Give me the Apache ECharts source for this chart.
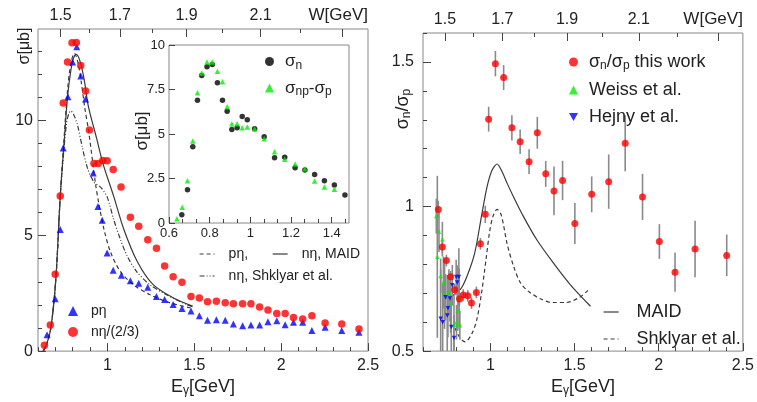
<!DOCTYPE html>
<html>
<head>
<meta charset="utf-8">
<title>eta photoproduction off the neutron</title>
<script src="https://cdn.jsdelivr.net/npm/echarts@6/dist/echarts.min.js"></script>
<style>
  html, body { margin: 0; padding: 0; background: #fff; }
  #main { width: 757px; height: 402px; }
</style>
</head>
<body>
<div id="main"></div>
<script>
const FONT = '"Liberation Sans", Arial, Helvetica, sans-serif';
const M_N = 0.938; // nucleon mass, used for the W scale on top

// ---- left panel: total cross sections [ub] vs E_gamma [GeV] ----
const pEtaE = [0.652,0.699,0.728,0.745,0.772,0.799,0.823,0.846,0.874,0.918,0.945,0.970,0.998,1.033,1.080,1.132,1.180,1.232,1.282,1.329,1.378,1.429,1.481,1.529,1.576,1.627,1.678,1.725,1.778,1.826,1.876,1.924,1.975,2.023,2.071,2.124,2.177,2.253,2.349,2.448];
const pEtaSig = [0.71,2.27,5.27,8.80,11.02,12.52,13.18,11.91,10.92,7.71,6.26,5.67,4.25,3.50,3.29,3.05,2.94,2.77,2.37,2.23,2.02,1.84,1.74,1.53,1.34,1.36,1.34,1.17,1.10,1.13,1.13,1.27,1.31,1.14,1.25,1.25,0.89,1.03,0.89,0.82];
const nEtaE = [0.637,0.671,0.699,0.728,0.745,0.770,0.796,0.821,0.846,0.874,0.896,0.922,0.947,0.973,0.998,1.033,1.078,1.132,1.180,1.232,1.282,1.329,1.378,1.429,1.481,1.529,1.576,1.627,1.678,1.725,1.778,1.826,1.876,1.924,1.975,2.023,2.071,2.124,2.177,2.253,2.349,2.448];
const nEtaSig = [0.25,1.13,3.33,6.72,10.74,12.52,13.35,13.36,12.37,11.27,9.58,8.12,8.12,8.25,8.24,7.86,7.11,5.80,5.41,4.82,4.45,3.69,3.22,2.98,2.37,2.30,2.14,2.16,2.09,2.05,2.05,2.05,1.91,1.78,1.63,1.63,1.46,1.39,1.53,1.22,1.17,0.96];

// model curves
const maidPE = [0.63,0.65,0.675,0.703,0.728,0.75,0.77,0.79,0.81,0.83,0.85,0.87,0.89,0.913,0.932,0.95,0.979,1.017,1.074,1.15,1.245,1.36,1.49];
const maidPSig = [0,0.3,1.05,3.15,6.68,9.2,11.3,12.5,12.9,12.5,11.6,10.5,9.6,8.3,7.2,6.4,5.3,4.3,3.45,2.87,2.44,2.09,1.85];
const maidNE = [0.63,0.65,0.675,0.703,0.728,0.75,0.77,0.79,0.805,0.82,0.84,0.865,0.89,0.938,0.975,1.036,1.093,1.17,1.26,1.38,1.49];
const maidNSig = [0,0.3,1.05,3.15,6.68,9.0,11.0,12.2,12.7,12.85,12.6,11.8,10.6,9.2,8.1,6.7,5.3,3.9,2.9,2.3,1.95];
const shkNE = [0.63,0.65,0.675,0.703,0.728,0.75,0.765,0.778,0.789,0.805,0.827,0.856,0.884,0.922,0.96,0.998,1.036,1.074,1.112,1.169,1.245,1.34,1.455,1.5];
const shkNSig = [0,0.3,1.05,3.15,6.68,8.8,9.9,10.3,10.4,10.25,9.8,8.8,7.95,7.32,7.1,6.68,5.69,4.85,4.14,3.43,2.87,2.44,2.02,1.9];

// ---- inset: sigma_n and sigma_np - sigma_p ----
const insetE = [0.663,0.691,0.717,0.740,0.761,0.787,0.813,0.838,0.863,0.886,0.909,0.935,0.960,0.985,1.021,1.068,1.119,1.169,1.220,1.268,1.316,1.364,1.413,1.465];
const sigN = [0.47,1.87,4.28,6.89,8.28,8.78,8.90,7.88,6.89,6.28,5.25,5.35,5.99,5.80,5.29,4.84,3.66,3.69,3.10,2.98,2.72,2.38,2.14,1.58];
const diffE = [0.639,0.665,0.691,0.717,0.740,0.761,0.787,0.813,0.838,0.863,0.886,0.909,0.935,0.960,0.985,1.021,1.068,1.119,1.169,1.220,1.268,1.316,1.364,1.413];
const sigDiff = [0.24,0.88,2.38,4.60,7.32,8.42,9.05,9.05,8.52,7.94,6.53,5.57,5.57,5.35,5.40,5.29,4.73,4.00,3.58,3.31,3.05,2.36,2.02,1.90];

// ---- right panel: ratio sigma_n / sigma_p ----
const ratioE = [0.691,0.715,0.739,0.764,0.788,0.817,0.839,0.866,0.888,0.917,0.941,0.970,0.990,1.030,1.079,1.128,1.177,1.230,1.279,1.329,1.378,1.429,1.502,1.602,1.703,1.801,1.904,2.004,2.097,2.216,2.404];
const ratioVal = [0.990,0.860,0.813,0.757,0.712,0.680,0.694,0.691,0.666,0.703,0.871,0.973,1.302,1.494,1.446,1.272,1.224,1.155,1.255,1.113,1.054,1.090,0.941,1.042,1.086,1.219,1.033,0.879,0.773,0.853,0.831];
const ratioErr = [0.03,0.02,0.02,0.02,0.02,0.02,0.02,0.02,0.02,0.02,0.02,0.03,0.043,0.044,0.043,0.044,0.042,0.043,0.055,0.045,0.084,0.068,0.071,0.062,0.094,0.097,0.08,0.06,0.068,0.098,0.072];
const weissE = [0.679,0.685,0.695,0.705,0.715,0.721,0.728,0.754,0.764,0.784,0.799,0.807,0.815,0.819];
const weissVal = [0.967,0.826,0.913,0.760,0.887,0.737,0.697,0.703,0.663,0.591,0.600,0.640,0.686,0.589];
const weissErr = [0.06,0.28,0.07,0.06,0.06,0.09,0.12,0.08,0.10,0.10,0.06,0.07,0.10,0.05];
const hejnyE = [0.705,0.717,0.734,0.744,0.748,0.760,0.768,0.774,0.784,0.797,0.803,0.813];
const hejnyVal = [0.612,0.600,0.686,0.623,0.648,0.682,0.583,0.728,0.545,0.756,0.737,0.756];
const hejnyErr = [0.17,0.13,0.08,0.14,0.10,0.08,0.10,0.07,0.08,0.06,0.06,0.10];
const maidRE = [0.72,0.774,0.823,0.862,0.907,0.947,0.98,1.01,1.04,1.07,1.10,1.138,1.197,1.276,1.374,1.473,1.595];
const maidRVal = [0.68,0.691,0.714,0.76,0.839,0.965,1.067,1.125,1.147,1.12,1.08,1.033,0.965,0.885,0.805,0.731,0.655];
const shkRE = [0.79,0.82,0.85,0.89,0.92,0.95,0.975,0.995,1.015,1.04,1.065,1.10,1.14,1.18,1.23,1.30,1.37,1.45,1.53,1.58];
const shkRVal = [0.58,0.545,0.532,0.56,0.61,0.71,0.82,0.91,0.965,0.99,0.97,0.87,0.79,0.735,0.705,0.68,0.668,0.668,0.686,0.71];

// ---- ticks ----
const eTicks = [1, 1.5, 2, 2.5];
const sigTicks = [0, 5, 10];
const ratioTicks = [0.5, 1, 1.5];
const insetETicks = [0.6, 0.8, 1, 1.2, 1.4];
const insetSigTicks = [0, 2.5, 5, 7.5, 10];
const wTicks = [1.5, 1.7, 1.9, 2.1, 2.3];
const wLabels = [1.5, 1.7, 1.9, 2.1];
const wMinor = [1.6, 1.8, 2.0, 2.2];

const zip = (xs, ys) => xs.map((x, i) => [x, ys[i]]);
const zip3 = (xs, ys, es) => xs.map((x, i) => [x, ys[i], es[i]]);
const eOfW = w => (w * w - M_N * M_N) / (2 * M_N);
function minorVals(lo, hi, step, majors) {
    const out = [];
    for (let k = Math.round(lo / step); k * step <= hi + 1e-9; k++) {
        const v = +(k * step).toFixed(4);
        if (v >= lo - 1e-9 && !majors.some(m => Math.abs(m - v) < 1e-6)) out.push(v);
    }
    return out;
}

const TICK = '#444';
const FRAME = '#888';
const CURVE = '#3a3a3a';
const GREEN = '#00ee00';
const sub = { fontSize: 12, fontFamily: FONT, padding: [8, 0, 0, 0], color: '#222' };

function majorAxis(extra) {
    return Object.assign({
        type: 'value',
        axisLine: { show: false },
        splitLine: { show: false },
        axisTick: { inside: true, length: 8, lineStyle: { color: TICK } },
        axisLabel: { color: '#222', fontSize: 16, fontFamily: FONT, margin: 6 }
    }, extra);
}
function minorAxis(extra, vals) {
    return Object.assign({
        type: 'value',
        axisLine: { show: false },
        splitLine: { show: false },
        axisLabel: { show: false },
        axisTick: { inside: true, length: 4, customValues: vals, lineStyle: { color: TICK } }
    }, extra);
}

const wFmt = v => Math.sqrt(M_N * M_N + 2 * M_N * v).toFixed(1);
const eName = '{t|E}{s|γ}{t|[GeV]}';
const eNameStyle = { rich: { t: { fontSize: 18, fontFamily: FONT, color: '#222' }, s: sub } };

const xAxes = [
    // left panel
    majorAxis({ gridIndex: 0, min: 0.6, max: 2.5, position: 'bottom',
        axisTick: { inside: true, length: 8, customValues: eTicks, lineStyle: { color: TICK } },
        axisLabel: { color: '#222', fontSize: 16, fontFamily: FONT, margin: 6, customValues: eTicks },
        name: eName, nameLocation: 'middle', nameGap: 20, nameTextStyle: eNameStyle }),
    minorAxis({ gridIndex: 0, min: 0.6, max: 2.5, position: 'bottom' }, minorVals(0.6, 2.5, 0.1, eTicks)),
    majorAxis({ gridIndex: 0, min: 0.6, max: 2.5, position: 'top',
        axisTick: { inside: true, length: 8, customValues: wTicks.map(eOfW), lineStyle: { color: TICK } },
        axisLabel: { color: '#222', fontSize: 16, fontFamily: FONT, margin: 5, customValues: wLabels.map(eOfW), formatter: wFmt },
        name: 'W[GeV]', nameLocation: 'end', nameGap: 0,
        nameTextStyle: { fontSize: 17, fontFamily: FONT, color: '#222', align: 'right', verticalAlign: 'bottom', padding: [0, 0, 5, 0] } }),
    minorAxis({ gridIndex: 0, min: 0.6, max: 2.5, position: 'top' }, wMinor.map(eOfW)),
    // inset
    majorAxis({ gridIndex: 1, min: 0.6, max: 1.485, position: 'bottom',
        axisTick: { inside: true, length: 6, customValues: insetETicks, lineStyle: { color: TICK } },
        axisLabel: { color: '#222', fontSize: 13, fontFamily: FONT, margin: 4, customValues: insetETicks } }),
    minorAxis({ gridIndex: 1, min: 0.6, max: 1.485, position: 'bottom' }, minorVals(0.6, 1.485, 0.2 / 3, insetETicks)),
    // right panel
    majorAxis({ gridIndex: 2, min: 0.6, max: 2.5, position: 'bottom',
        axisTick: { inside: true, length: 8, customValues: eTicks, lineStyle: { color: TICK } },
        axisLabel: { color: '#222', fontSize: 16, fontFamily: FONT, margin: 6, customValues: eTicks },
        name: eName, nameLocation: 'middle', nameGap: 20, nameTextStyle: eNameStyle }),
    minorAxis({ gridIndex: 2, min: 0.6, max: 2.5, position: 'bottom' }, minorVals(0.6, 2.5, 0.1, eTicks)),
    majorAxis({ gridIndex: 2, min: 0.6, max: 2.5, position: 'top',
        axisTick: { inside: true, length: 8, customValues: wTicks.map(eOfW), lineStyle: { color: TICK } },
        axisLabel: { color: '#222', fontSize: 16, fontFamily: FONT, margin: 5, customValues: wLabels.map(eOfW), formatter: wFmt },
        name: 'W[GeV]', nameLocation: 'end', nameGap: 0,
        nameTextStyle: { fontSize: 17, fontFamily: FONT, color: '#222', align: 'right', verticalAlign: 'bottom', padding: [0, 0, 5, 0] } }),
    minorAxis({ gridIndex: 2, min: 0.6, max: 2.5, position: 'top' }, wMinor.map(eOfW))
];

const yAxes = [
    majorAxis({ gridIndex: 0, min: 0, max: 13.95, position: 'left',
        axisTick: { inside: true, length: 8, customValues: sigTicks, lineStyle: { color: TICK } },
        axisLabel: { color: '#222', fontSize: 16, fontFamily: FONT, margin: 5, customValues: sigTicks } }),
    minorAxis({ gridIndex: 0, min: 0, max: 13.95, position: 'left' }, minorVals(0, 13.95, 1, sigTicks)),
    majorAxis({ gridIndex: 1, min: 0, max: 10, position: 'left',
        axisTick: { inside: true, length: 6, customValues: insetSigTicks, lineStyle: { color: TICK } },
        axisLabel: { color: '#222', fontSize: 13, fontFamily: FONT, margin: 4, customValues: insetSigTicks } }),
    majorAxis({ gridIndex: 2, min: 0.5, max: 1.6, position: 'left',
        axisTick: { inside: true, length: 8, customValues: ratioTicks, lineStyle: { color: TICK } },
        axisLabel: { color: '#222', fontSize: 16, fontFamily: FONT, margin: 9, customValues: ratioTicks } }),
    minorAxis({ gridIndex: 2, min: 0.5, max: 1.6, position: 'left' }, minorVals(0.5, 1.6, 0.1, ratioTicks))
];

function errRender(params, api) {
    const x = api.value(0), y = api.value(1), e = api.value(2);
    const hi = api.coord([x, Math.min(y + e, 1.6)]);
    const lo = api.coord([x, Math.max(y - e, 0.5)]);
    return { type: 'line', shape: { x1: hi[0], y1: hi[1], x2: lo[0], y2: lo[1] },
             style: { stroke: '#8a8a8a', lineWidth: 1.6 } };
}
function curve(name, xs, ys, type, xi, yi) {
    return { name: name, type: 'line', xAxisIndex: xi, yAxisIndex: yi, data: zip(xs, ys),
             symbol: 'none', smooth: 0.3, z: 1,
             lineStyle: { color: CURVE, width: 1.2, type: type }, itemStyle: { color: CURVE } };
}
function dots(name, xs, ys, symbol, size, color, xi, yi) {
    return { name: name, type: 'scatter', xAxisIndex: xi, yAxisIndex: yi, data: zip(xs, ys),
             symbol: symbol, symbolSize: size, itemStyle: { color: color }, z: 3 };
}
const DOWN = 'path://M0,0L10,0L5,9Z';

const series = [
    curve('pη,', maidPE, maidPSig, [4, 3], 0, 0),
    curve('nη, MAID', maidNE, maidNSig, 'solid', 0, 0),
    curve('nη, Shklyar et al.', shkNE, shkNSig, [5, 2, 1, 2, 1, 2], 0, 0),
    dots('pη', pEtaE, pEtaSig, 'triangle', 7, '#0000ff', 0, 0),
    dots('nη/(2/3)', nEtaE, nEtaSig, 'circle', 7.5, '#ff0000', 0, 0),
    dots('σn', insetE, sigN, 'circle', 5.5, '#000000', 4, 2),
    dots('σnp-σp', diffE, sigDiff, 'triangle', 5.5, GREEN, 4, 2),
    curve('MAID', maidRE, maidRVal, 'solid', 6, 3),
    curve('Shklyar et al.', shkRE, shkRVal, [4, 3], 6, 3),
    { type: 'custom', xAxisIndex: 6, yAxisIndex: 3, renderItem: errRender, data: zip3(weissE, weissVal, weissErr), z: 2, clip: true },
    { type: 'custom', xAxisIndex: 6, yAxisIndex: 3, renderItem: errRender, data: zip3(hejnyE, hejnyVal, hejnyErr), z: 2, clip: true },
    { type: 'custom', xAxisIndex: 6, yAxisIndex: 3, renderItem: errRender, data: zip3(ratioE, ratioVal, ratioErr), z: 2, clip: true },
    dots('Weiss et al.', weissE, weissVal, 'triangle', 4.5, GREEN, 6, 3),
    dots('Hejny et al.', hejnyE, hejnyVal, DOWN, 4.5, '#0000ff', 6, 3),
    dots('σn/σp this work', ratioE, ratioVal, 'circle', 7, '#ff0000', 6, 3)
];

const richNames = {
    'σn': '{t|σ}{s|n}',
    'σnp-σp': '{t|σ}{s|np}{t|-σ}{s|p}',
    'σn/σp this work': '{t|σ}{s|n}{t|/σ}{s|p}{t| this work}'
};
function legendBox(names, left, top, fontSize, gap, opts) {
    return Object.assign({
        data: names, left: left, top: top, orient: 'vertical', padding: 0,
        itemGap: gap, itemWidth: 9, itemHeight: 9, selectedMode: false,
        formatter: n => richNames[n] || '{t|' + n + '}',
        textStyle: { padding: [0, 0, 0, 6], rich: {
            t: { fontSize: fontSize, fontFamily: FONT, color: '#222' },
            s: Object.assign({}, sub, { fontSize: Math.round(fontSize * 0.68) }) } }
    }, opts || {});
}
// legends for the model curves: line sample only, no marker
function lineLegend(names, left, top, fontSize, gap, pad, orient) {
    return legendBox(names, left, top, fontSize, gap, {
        orient: orient || 'vertical', itemWidth: 15, itemHeight: 10,
        itemStyle: { color: 'rgba(0,0,0,0)', borderWidth: 0, opacity: 0 },
        lineStyle: { width: 1.2 },
        textStyle: { padding: [0, 0, 0, pad], rich: { t: { fontSize: fontSize, fontFamily: FONT, color: '#222' } } }
    });
}

const option = {
    animation: false,
    backgroundColor: '#fff',
    grid: [
        { left: 38, top: 29, width: 330, height: 329, show: true, borderColor: FRAME, borderWidth: 1 },
        { left: 169, top: 45, width: 180, height: 178, show: true, borderColor: FRAME, borderWidth: 1, backgroundColor: '#fff' },
        { left: 423, top: 33, width: 323, height: 323, show: true, borderColor: FRAME, borderWidth: 1 }
    ],
    xAxis: xAxes,
    yAxis: yAxes,
    legend: [
        legendBox(['pη', 'nη/(2/3)'], 68, 304, 14, 7, { itemWidth: 10, itemHeight: 10, textStyle: { padding: [0, 0, 0, 8], rich: { t: { fontSize: 14, fontFamily: FONT, color: '#222' } } } }),
        lineLegend(['pη,', 'nη, MAID'], 199, 247, 14, 24, 9, 'horizontal'),
        lineLegend(['nη, Shklyar et al.'], 199, 269, 14, 0, 9),
        legendBox(['σn', 'σnp-σp'], 265, 53, 17, 8),
        legendBox(['σn/σp this work', 'Weiss et al.', 'Hejny et al.'], 569, 53, 18, 9),
        lineLegend(['MAID', 'Shklyar et al.'], 603, 303, 18, 9, 13)
    ],
    graphic: [
        { type: 'text', x: 25, y: 46, rotation: Math.PI / 2,
          style: { text: 'σ[μb]', font: '16px ' + FONT, fill: '#222', align: 'center', verticalAlign: 'middle' } },
        { type: 'text', x: 142, y: 131, rotation: Math.PI / 2,
          style: { text: 'σ[μb]', font: '17px ' + FONT, fill: '#222', align: 'center', verticalAlign: 'middle' } },
        { type: 'text', x: 403, y: 109, rotation: Math.PI / 2,
          style: { text: '{t|σ}{s|n}{t|/σ}{s|p}', align: 'center', verticalAlign: 'middle',
                   rich: { t: { fontSize: 18, fontFamily: FONT, fill: '#222' }, s: { fontSize: 12, fontFamily: FONT, fill: '#222', padding: [8, 0, 0, 0] } } } }
    ],
    series: series
};

const chart = echarts.init(document.getElementById('main'));
chart.setOption(option);
window.addEventListener('resize', () => chart.resize());
</script>
</body>
</html>
